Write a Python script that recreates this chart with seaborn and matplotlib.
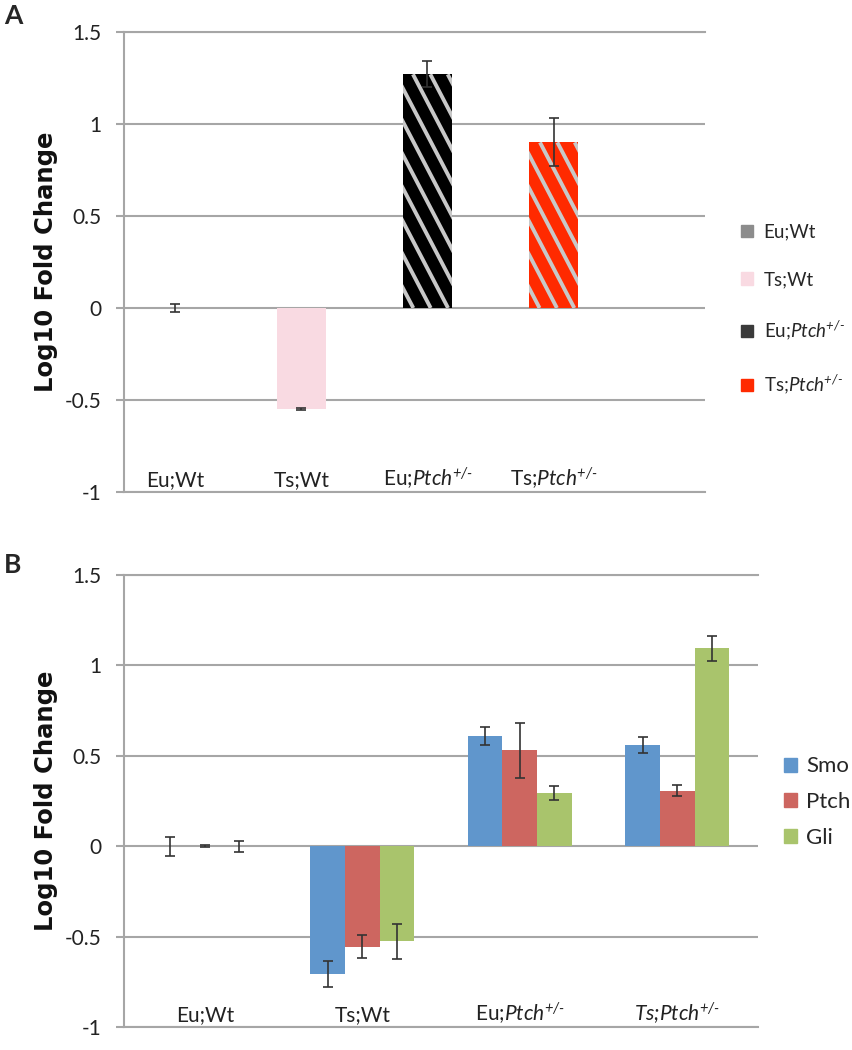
import matplotlib
matplotlib.use('Agg')
import matplotlib.pyplot as plt
import matplotlib.patches as mpatches
from matplotlib.lines import Line2D
import numpy as np
import pandas as pd
import seaborn as sns

# panel A: single gene, four genotypes
genotypes = ['Eu;Wt', 'Ts;Wt', 'Eu;Ptch+/-', 'Ts;Ptch+/-']
a_values = [0.0, -0.55, 1.27, 0.90]
a_errors = [0.02, 0.005, 0.07, 0.13]
a_colors = ['#8c8c8c', '#f9dae2', '#000000', '#ff2a00']
a_legend_colors = ['#8c8c8c', '#f9dae2', '#3a3a3a', '#ff2a00']
a_xlabels = ['Eu;Wt', 'Ts;Wt', r'Eu;$\text{Ptch}^{\text{+/-}}$', r'Ts;$\text{Ptch}^{\text{+/-}}$']

# panel B: three genes per genotype
genes = ['Smo', 'Ptch', 'Gli']
smo_values = [0.0, -0.707, 0.607, 0.559]
smo_errors = [0.052, 0.074, 0.05, 0.045]
ptch_values = [0.0, -0.555, 0.53, 0.307]
ptch_errors = [0.005, 0.065, 0.154, 0.03]
gli_values = [0.0, -0.526, 0.293, 1.094]
gli_errors = [0.03, 0.097, 0.04, 0.07]
b_colors = ['#6096cc', '#cd6660', '#a9c46c']
b_xlabels = ['Eu;Wt', 'Ts;Wt', r'Eu;$\text{Ptch}^{\text{+/-}}$', r'$\text{Ts;Ptch}^{\text{+/-}}$']

y_ticks = [-1, -0.5, 0, 0.5, 1, 1.5]
y_ticklabels = ['-1', '-0.5', '0', '0.5', '1', '1.5']

sns.set_style('white')
plt.rcParams['font.family'] = ['Lato', 'DejaVu Sans']
plt.rcParams['mathtext.fontset'] = 'custom'
plt.rcParams['mathtext.rm'] = 'Lato:italic'
plt.rcParams['mathtext.it'] = 'Lato:italic'

GRID = '#a6a6a6'


def style_axes(ax, xlabels):
    ax.set_ylim(-1, 1.5)
    ax.set_yticks(y_ticks, labels=y_ticklabels)
    ax.set_xticks(range(len(xlabels)), labels=xlabels)
    ax.yaxis.grid(True, color=GRID, lw=1.5)
    ax.set_axisbelow(True)
    for side in ['top', 'bottom', 'left']:
        ax.spines[side].set_color(GRID)
        ax.spines[side].set_linewidth(1.5)
    ax.spines['right'].set_visible(False)
    ax.tick_params(axis='y', length=6, width=1.5, color=GRID, pad=10, labelsize=15, labelcolor='#222222', left=True)
    ax.tick_params(axis='x', length=0, pad=-4, labelsize=15, labelcolor='#222222', bottom=True)
    for lbl in ax.get_xticklabels():
        lbl.set_va('baseline')
    ax.set_xlabel('')
    ax.set_ylabel('')


def add_stripes(ax, patch, spacing=20, angle=59, color='#c8c8c8', lw=2.8):
    x0, y0 = patch.get_x(), patch.get_y()
    w, h = patch.get_width(), patch.get_height()
    px0, py0 = ax.transData.transform((x0, min(y0, y0 + h)))
    px1, py1 = ax.transData.transform((x0 + w, max(y0, y0 + h)))
    run = (py1 - py0) / np.tan(np.radians(angle))
    inv = ax.transData.inverted()
    for c in np.arange(px0 - run - spacing + 12, px1 + spacing, spacing):
        pts = inv.transform(np.array([[c, py1], [c + run, py0]]))
        line = Line2D(pts[:, 0], pts[:, 1], color=color, lw=lw, solid_capstyle='butt')
        ax.add_line(line)
        line.set_clip_path(patch)


fig = plt.figure(figsize=(8.52, 10.5), dpi=100)

# ---------------- panel A
ax_a = fig.add_axes([124 / 852, 1 - 492 / 1050, 581 / 852, 460 / 1050])
df_a = pd.DataFrame({'genotype': genotypes, 'value': a_values})
sns.barplot(data=df_a, x='genotype', y='value', hue='genotype', palette=a_colors,
            width=0.39, saturation=1, legend=False, errorbar=None, linewidth=0, ax=ax_a)
style_axes(ax_a, a_xlabels)
bars_a = ax_a.patches[:len(genotypes)]
ax_a.errorbar([p.get_x() + p.get_width() / 2 for p in bars_a], a_values, yerr=a_errors,
              fmt='none', ecolor='#333333', elinewidth=1.2, capsize=3.5, capthick=1.2, zorder=5)
for p in bars_a[2:]:
    add_stripes(ax_a, p)

handles_a = [mpatches.Patch(color=c, label=l) for c, l in zip(a_legend_colors, a_xlabels)]
fig.legend(handles=handles_a, loc='center left', bbox_to_anchor=(741 / 852, 1 - 310 / 1050),
           frameon=False, fontsize=13.5, handlelength=0.65, handleheight=0.65, handletextpad=0.55,
           labelspacing=1.63, borderpad=0, borderaxespad=0)

# ---------------- panel B
ax_b = fig.add_axes([124 / 852, 1 - 1027 / 1050, 634 / 852, 452 / 1050])
df_b = pd.DataFrame({
    'genotype': genotypes * 3,
    'gene': np.repeat(genes, len(genotypes)),
    'value': smo_values + ptch_values + gli_values,
})
sns.barplot(data=df_b, x='genotype', y='value', hue='gene', hue_order=genes, palette=b_colors,
            width=0.66, saturation=1, legend=False, errorbar=None, linewidth=0, ax=ax_b)
style_axes(ax_b, b_xlabels)
for cont, vals, errs in zip(ax_b.containers, [smo_values, ptch_values, gli_values],
                            [smo_errors, ptch_errors, gli_errors]):
    xs = [p.get_x() + p.get_width() / 2 for p in cont.patches]
    ax_b.errorbar(xs, vals, yerr=errs, fmt='none', ecolor='#333333', elinewidth=1.2,
                  capsize=3.5, capthick=1.2, zorder=5)

handles_b = [mpatches.Patch(color=c, label=g) for c, g in zip(b_colors, genes)]
fig.legend(handles=handles_b, loc='center left', bbox_to_anchor=(784 / 852, 1 - 802 / 1050),
           frameon=False, fontsize=16, handlelength=0.6, handleheight=0.6, handletextpad=0.4,
           labelspacing=0.7, borderpad=0, borderaxespad=0)

# y labels and panel letters
for yc in [262, 801]:
    fig.text(46 / 852, 1 - yc / 1050, 'Log10 Fold Change', rotation=90, ha='center', va='center',
             fontsize=17.5, fontweight='bold', family='DejaVu Sans', color='#111111')
fig.text(4 / 852, 1 - 4 / 1050, 'A', fontsize=19, fontweight='bold', va='top', ha='left')
fig.text(4 / 852, 1 - 553 / 1050, 'B', fontsize=19, fontweight='bold', va='top', ha='left')

fig.savefig('out.png', dpi=100)
